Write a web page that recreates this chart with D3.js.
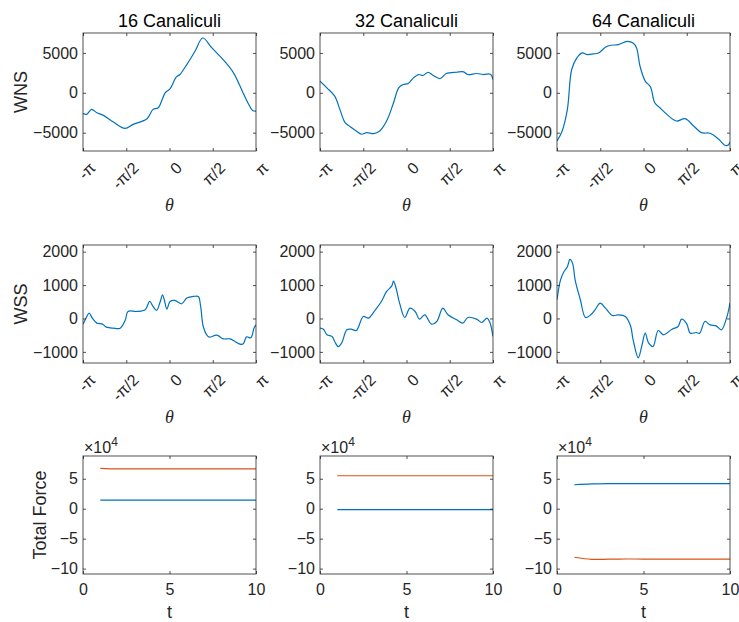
<!DOCTYPE html>
<html>
<head>
<meta charset="utf-8">
<script src="https://cdn.jsdelivr.net/npm/d3@7"></script>
<style>
  body { margin: 0; background: #fff; }
  svg { font-family: "Liberation Sans", Arial, sans-serif; }
</style>
</head>
<body>
<div id="chart"></div>
<script>
// theta values are in units of pi
const titles = ["16 Canaliculi", "32 Canaliculi", "64 Canaliculi"];
const thetaTicks = [-1, -0.5, 0, 0.5, 1];
const thetaTickLabels = ["-\u03c0", "-\u03c0/2", "0", "\u03c0/2", "\u03c0"];
const wnsTicks = [-5000, 0, 5000];
const wssTicks = [-1000, 0, 1000, 2000];
const forceTicks = [-10, -5, 0, 5];
const tTicks = [0, 5, 10];

const wnsTheta16 = [-1, -0.957, -0.9, -0.84, -0.765, -0.65, -0.514, -0.42, -0.26, -0.19, -0.13, -0.05, 0.006, 0.08, 0.12, 0.2, 0.295, 0.384, 0.49, 0.62, 0.74, 0.85, 0.91, 0.96, 1];
const wns16 = [-2600, -2700, -2080, -2500, -2830, -3670, -4460, -3960, -3250, -2080, -1875, 0, 500, 2000, 2290, 3540, 5210, 6875, 5625, 4160, 2500, 0, -1340, -2210, -2290];

const wnsTheta32 = [-1, -0.92, -0.83, -0.77, -0.71, -0.65, -0.58, -0.52, -0.46, -0.38, -0.31, -0.23, -0.15, -0.09, -0.04, 0.02, 0.08, 0.14, 0.19, 0.25, 0.31, 0.39, 0.46, 0.58, 0.66, 0.71, 0.81, 0.89, 0.97, 1];
const wns32 = [1460, 625, -420, -2080, -3750, -4250, -4790, -5200, -5000, -5125, -4790, -3540, -1250, 625, 1040, 1170, 1875, 2290, 2170, 2580, 2170, 1790, 2420, 2580, 2625, 2290, 2420, 2290, 2330, 1670];

const wnsTheta64 = [-1, -0.94, -0.88, -0.83, -0.77, -0.71, -0.65, -0.58, -0.52, -0.44, -0.38, -0.29, -0.19, -0.12, -0.08, -0.04, 0.02, 0.08, 0.13, 0.19, 0.27, 0.38, 0.48, 0.58, 0.67, 0.77, 0.87, 0.94, 0.98, 1];
const wns64 = [-6040, -4790, -2080, 2920, 4375, 5000, 4790, 4875, 5000, 5710, 5960, 6040, 6460, 6250, 5625, 3330, 1460, 750, -1250, -1875, -2710, -3540, -3250, -4170, -5000, -5080, -5830, -6580, -6540, -6170];

const wssTheta16 = [-1, -0.965, -0.93, -0.89, -0.84, -0.78, -0.73, -0.65, -0.57, -0.51, -0.48, -0.38, -0.28, -0.23, -0.19, -0.15, -0.11, -0.08, -0.06, -0.03, 0.006, 0.06, 0.14, 0.2, 0.28, 0.333, 0.36, 0.39, 0.43, 0.46, 0.546, 0.62, 0.7, 0.757, 0.815, 0.853, 0.89, 0.94, 0.977, 1];
const wss16 = [-170, 10, 160, 0, -140, -160, -260, -290, -290, -40, 210, 210, 260, 510, 360, 240, 480, 710, 560, 280, 510, 540, 440, 610, 660, 657, 360, -240, -490, -560, -500, -610, -610, -690, -770, -760, -550, -580, -290, -190];

const wssTheta32 = [-1, -0.96, -0.92, -0.86, -0.83, -0.79, -0.75, -0.69, -0.64, -0.58, -0.5, -0.44, -0.36, -0.29, -0.23, -0.17, -0.15, -0.12, -0.08, -0.02, 0.04, 0.1, 0.15, 0.21, 0.29, 0.35, 0.42, 0.48, 0.58, 0.65, 0.71, 0.81, 0.87, 0.93, 0.96, 1];
const wss32 = [-290, -320, -490, -540, -690, -840, -740, -340, -320, -360, 60, 10, 260, 510, 810, 975, 1120, 905, 460, 30, 310, 210, -20, 110, -170, -90, 310, 110, -40, -140, 30, -20, -120, 10, -90, -540];

const wssTheta64 = [-1, -0.96, -0.92, -0.88, -0.85, -0.82, -0.79, -0.73, -0.67, -0.61, -0.56, -0.5, -0.44, -0.36, -0.29, -0.21, -0.15, -0.12, -0.06, -0.02, 0.02, 0.06, 0.11, 0.17, 0.23, 0.33, 0.4, 0.44, 0.5, 0.54, 0.61, 0.65, 0.71, 0.77, 0.84, 0.9, 0.96, 1];
const wss64 = [560, 1150, 1400, 1550, 1770, 1650, 1150, 560, 30, 110, 260, 460, 310, 90, 110, 60, -220, -640, -1180, -830, -440, -740, -840, -360, -490, -320, -240, -20, -160, -440, -420, -440, -90, -190, -220, -340, 10, 460];

// total force, in units of 1e4
const time = [1, 2, 3, 4, 5, 6, 7, 8, 9, 10];
const forceA16 = [1.45, 1.45, 1.45, 1.45, 1.45, 1.45, 1.45, 1.45, 1.45, 1.45];
const forceB16 = [6.75, 6.65, 6.65, 6.65, 6.65, 6.65, 6.65, 6.65, 6.65, 6.65];
const forceA32 = [-0.15, -0.15, -0.15, -0.15, -0.15, -0.15, -0.15, -0.15, -0.15, -0.15];
const forceB32 = [5.5, 5.5, 5.5, 5.5, 5.5, 5.5, 5.5, 5.5, 5.5, 5.5];
const forceA64 = [4.0, 4.15, 4.2, 4.2, 4.2, 4.2, 4.2, 4.2, 4.2, 4.2];
const forceB64 = [-8.1, -8.45, -8.42, -8.4, -8.4, -8.4, -8.4, -8.4, -8.4, -8.4];

const blue = "#0072BD";
const orange = "#D95319";
const axisColor = "#262626";

const colX = [83, 320, 557];
const rowY = [33, 245, 456];
const panelW = 173;
const panelH = 118;

const svg = d3.select("#chart").append("svg")
    .attr("width", 739)
    .attr("height", 622);

let clipCount = 0;

function drawPanel(col, row, cfg) {
    const g = svg.append("g")
        .attr("transform", "translate(" + colX[col] + "," + rowY[row] + ")");

    const x = d3.scaleLinear().domain(cfg.xDomain).range([0, panelW]);
    const y = d3.scaleLinear().domain(cfg.yDomain).range([panelH, 0]);

    const clipId = "clip" + (clipCount++);
    g.append("clipPath").attr("id", clipId)
        .append("rect").attr("width", panelW).attr("height", panelH);

    const line = d3.line()
        .x(d => x(d[0]))
        .y(d => y(d[1]))
        .curve(d3.curveCatmullRom);

    cfg.series.forEach(s => {
        g.append("path")
            .attr("clip-path", "url(#" + clipId + ")")
            .attr("d", line(d3.zip(s.x, s.y)))
            .attr("fill", "none")
            .attr("stroke", s.color)
            .attr("stroke-width", 1.2);
    });

    // axes, ticks pointing inward
    const bottom = g.append("g")
        .attr("transform", "translate(0," + panelH + ")")
        .call(d3.axisBottom(x).tickValues(cfg.xTicks)
            .tickFormat((d, i) => cfg.xLabels[i])
            .tickSizeInner(-3).tickSizeOuter(0).tickPadding(10));
    g.append("g")
        .call(d3.axisTop(x).tickValues(cfg.xTicks).tickFormat("")
            .tickSizeInner(-3).tickSizeOuter(0));
    g.append("g")
        .call(d3.axisLeft(y).tickValues(cfg.yTicks)
            .tickFormat(cfg.yFormat)
            .tickSizeInner(-3).tickSizeOuter(0).tickPadding(5));
    g.append("g")
        .attr("transform", "translate(" + panelW + ",0)")
        .call(d3.axisRight(y).tickValues(cfg.yTicks).tickFormat("")
            .tickSizeInner(-3).tickSizeOuter(0));

    g.selectAll(".domain").remove();
    g.selectAll(".tick line").attr("stroke", axisColor).attr("stroke-width", 0.8);
    g.selectAll(".tick text")
        .attr("fill", axisColor)
        .style("font-size", "16px")
        .style("font-family", "'Liberation Sans', Arial, sans-serif");

    if (cfg.rotate) {
        bottom.selectAll(".tick text")
            .attr("x", 9).attr("y", 14).attr("dy", "0.35em")
            .attr("text-anchor", "end")
            .attr("transform", "rotate(-45,9,14)");
    }

    g.append("rect")
        .attr("width", panelW).attr("height", panelH)
        .attr("fill", "none")
        .attr("stroke", axisColor)
        .attr("stroke-width", 0.8);

    if (cfg.title) {
        g.append("text")
            .attr("x", panelW / 2).attr("y", -6)
            .attr("text-anchor", "middle")
            .attr("fill", "#000")
            .style("font-size", "18px")
            .text(cfg.title);
    }

    if (cfg.yLabel) {
        g.append("text")
            .attr("transform", "translate(" + cfg.yLabelX + "," + panelH / 2 + ") rotate(-90)")
            .attr("text-anchor", "middle")
            .attr("dy", "0.35em")
            .attr("fill", axisColor)
            .style("font-size", "18px")
            .text(cfg.yLabel);
    }

    if (cfg.xLabel) {
        g.append("text")
            .attr("x", panelW / 2).attr("y", panelH + cfg.xLabelDy)
            .attr("text-anchor", "middle")
            .attr("fill", axisColor)
            .style("font-size", "18px")
            .style("font-style", cfg.xItalic ? "italic" : "normal")
            .style("font-family", cfg.xItalic ? "'Liberation Serif', 'DejaVu Serif', serif" : null)
            .text(cfg.xLabel);
    }

    if (cfg.exponent) {
        const t = g.append("text")
            .attr("x", 1).attr("y", -3)
            .attr("fill", axisColor)
            .style("font-size", "16px");
        t.append("tspan").text("\u00d710");
        t.append("tspan").attr("dy", -7).style("font-size", "12px").text(cfg.exponent);
    }
}

const wnsData = [[wnsTheta16, wns16], [wnsTheta32, wns32], [wnsTheta64, wns64]];
const wssData = [[wssTheta16, wss16], [wssTheta32, wss32], [wssTheta64, wss64]];
const forceData = [[forceA16, forceB16], [forceA32, forceB32], [forceA64, forceB64]];

for (let c = 0; c < 3; c++) {
    drawPanel(c, 0, {
        xDomain: [-1, 1], yDomain: [-7300, 7500],
        xTicks: thetaTicks, xLabels: thetaTickLabels, rotate: true,
        yTicks: wnsTicks, yFormat: d3.format("d"),
        series: [{ x: wnsData[c][0], y: wnsData[c][1], color: blue }],
        title: titles[c],
        yLabel: c === 0 ? "WNS" : null, yLabelX: -62,
        xLabel: "\u03b8", xLabelDy: 60, xItalic: true
    });
    drawPanel(c, 1, {
        xDomain: [-1, 1], yDomain: [-1333, 2200],
        xTicks: thetaTicks, xLabels: thetaTickLabels, rotate: true,
        yTicks: wssTicks, yFormat: d3.format("d"),
        series: [{ x: wssData[c][0], y: wssData[c][1], color: blue }],
        yLabel: c === 0 ? "WSS" : null, yLabelX: -62,
        xLabel: "\u03b8", xLabelDy: 60, xItalic: true
    });
    drawPanel(c, 2, {
        xDomain: [0, 10], yDomain: [-10.9, 8.8],
        xTicks: tTicks, xLabels: tTicks.map(String), rotate: false,
        yTicks: forceTicks, yFormat: d3.format("d"),
        series: [
            { x: time, y: forceData[c][0], color: blue },
            { x: time, y: forceData[c][1], color: orange }
        ],
        yLabel: c === 0 ? "Total Force" : null, yLabelX: -43,
        xLabel: "t", xLabelDy: 44, xItalic: false,
        exponent: "4"
    });
}
</script>
</body>
</html>
